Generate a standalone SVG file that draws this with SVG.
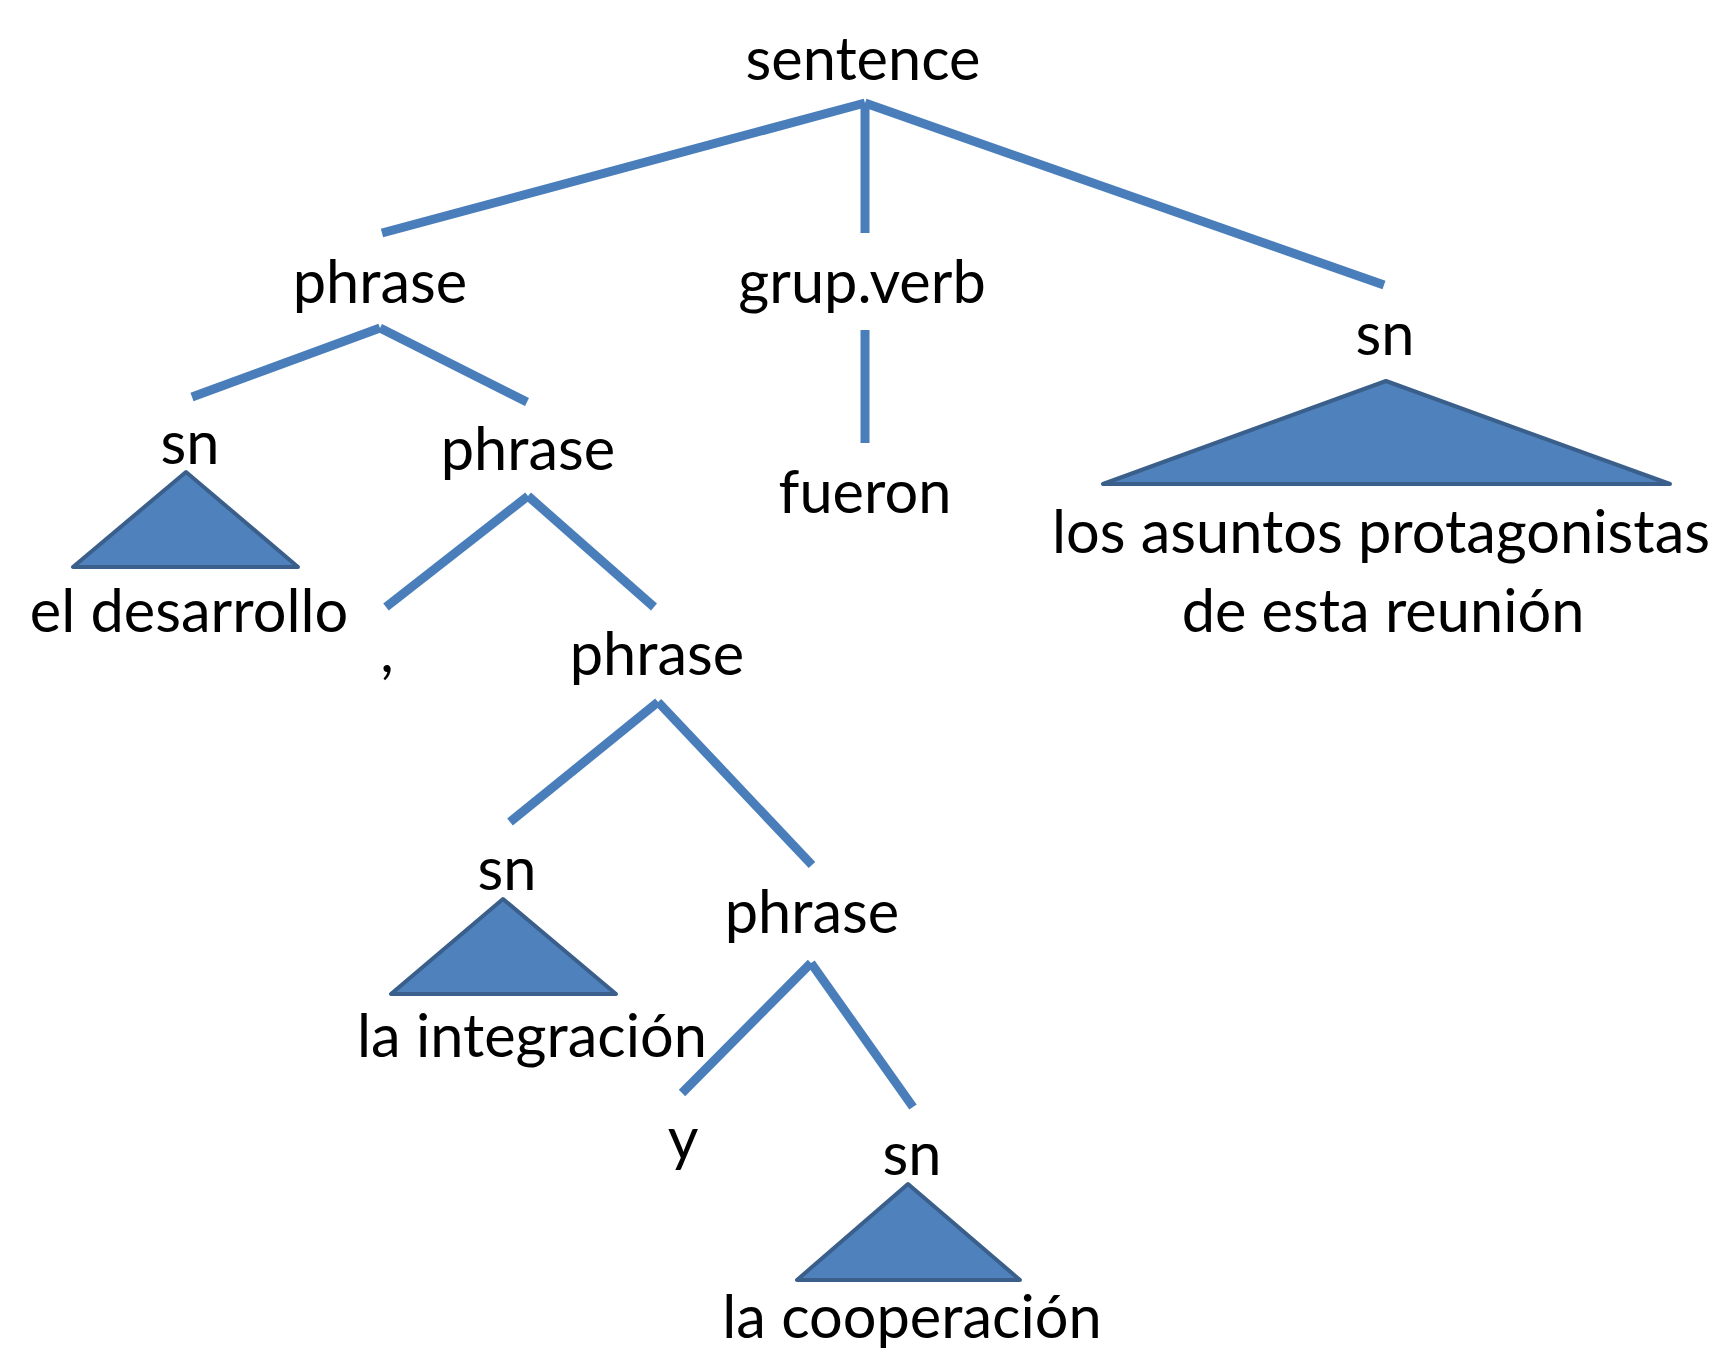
<svg xmlns="http://www.w3.org/2000/svg" width="1711" height="1348" viewBox="0 0 1711 1348">
<style>
.t{font-family:Lato,"Open Sans","Liberation Sans",sans-serif;font-size:59.5px;fill:#000;text-anchor:middle}
.c{stroke:#4A7EBB;stroke-width:9;stroke-linecap:butt;fill:none}
.tri{fill:#4F81BD;stroke:#3A5F8B;stroke-width:4;stroke-linejoin:round}
</style>
<rect width="1711" height="1348" fill="#fff"/>
<g id="connectors">
<line class="c" x1="865" y1="103" x2="382" y2="233"/>
<line class="c" x1="865" y1="103" x2="865" y2="233"/>
<line class="c" x1="865" y1="103" x2="1384" y2="285"/>
<line class="c" x1="865" y1="330" x2="865" y2="443"/>
<line class="c" x1="380" y1="328" x2="192" y2="397"/>
<line class="c" x1="380" y1="328" x2="527" y2="402"/>
<line class="c" x1="528" y1="496" x2="386" y2="607"/>
<line class="c" x1="528" y1="496" x2="654" y2="607"/>
<line class="c" x1="658" y1="702" x2="510" y2="822"/>
<line class="c" x1="658" y1="702" x2="812" y2="865"/>
<line class="c" x1="811" y1="963" x2="682" y2="1093"/>
<line class="c" x1="811" y1="963" x2="913" y2="1107"/>
</g>
<g id="sentence"><text class="t" x="863" y="80">sentence</text></g>
<g id="phrase1"><text class="t" x="380" y="303">phrase</text></g>
<g id="grupverb"><text class="t" x="862" y="303">grup.verb</text></g>
<g id="sn-right"><text class="t" x="1385" y="355">sn</text>
<polygon class="tri" points="1386,381 1103,484 1670,484"/></g>
<g id="los-asuntos"><text class="t" x="1381" y="553">los asuntos protagonistas</text>
<text class="t" x="1383" y="632">de esta reunión</text></g>
<g id="fueron"><text class="t" x="865" y="513">fueron</text></g>
<g id="sn-left"><text class="t" x="190" y="464">sn</text>
<polygon class="tri" points="186,472 73,567 298,567"/></g>
<g id="el-desarrollo"><text class="t" x="189" y="632">el desarrollo</text></g>
<g id="phrase2"><text class="t" x="528" y="470">phrase</text></g>
<g id="comma"><text class="t" x="387" y="672">,</text></g>
<g id="phrase3"><text class="t" x="657" y="675">phrase</text></g>
<g id="sn-mid"><text class="t" x="507" y="890">sn</text>
<polygon class="tri" points="503,899 391,994 616,994"/></g>
<g id="la-integracion"><text class="t" x="532" y="1057">la integración</text></g>
<g id="phrase4"><text class="t" x="812" y="933">phrase</text></g>
<g id="y"><text class="t" x="683" y="1160">y</text></g>
<g id="sn-bottom"><text class="t" x="912" y="1175">sn</text>
<polygon class="tri" points="908,1184 797,1280 1020,1280"/></g>
<g id="la-cooperacion"><text class="t" x="912" y="1338">la cooperación</text></g>
</svg>
